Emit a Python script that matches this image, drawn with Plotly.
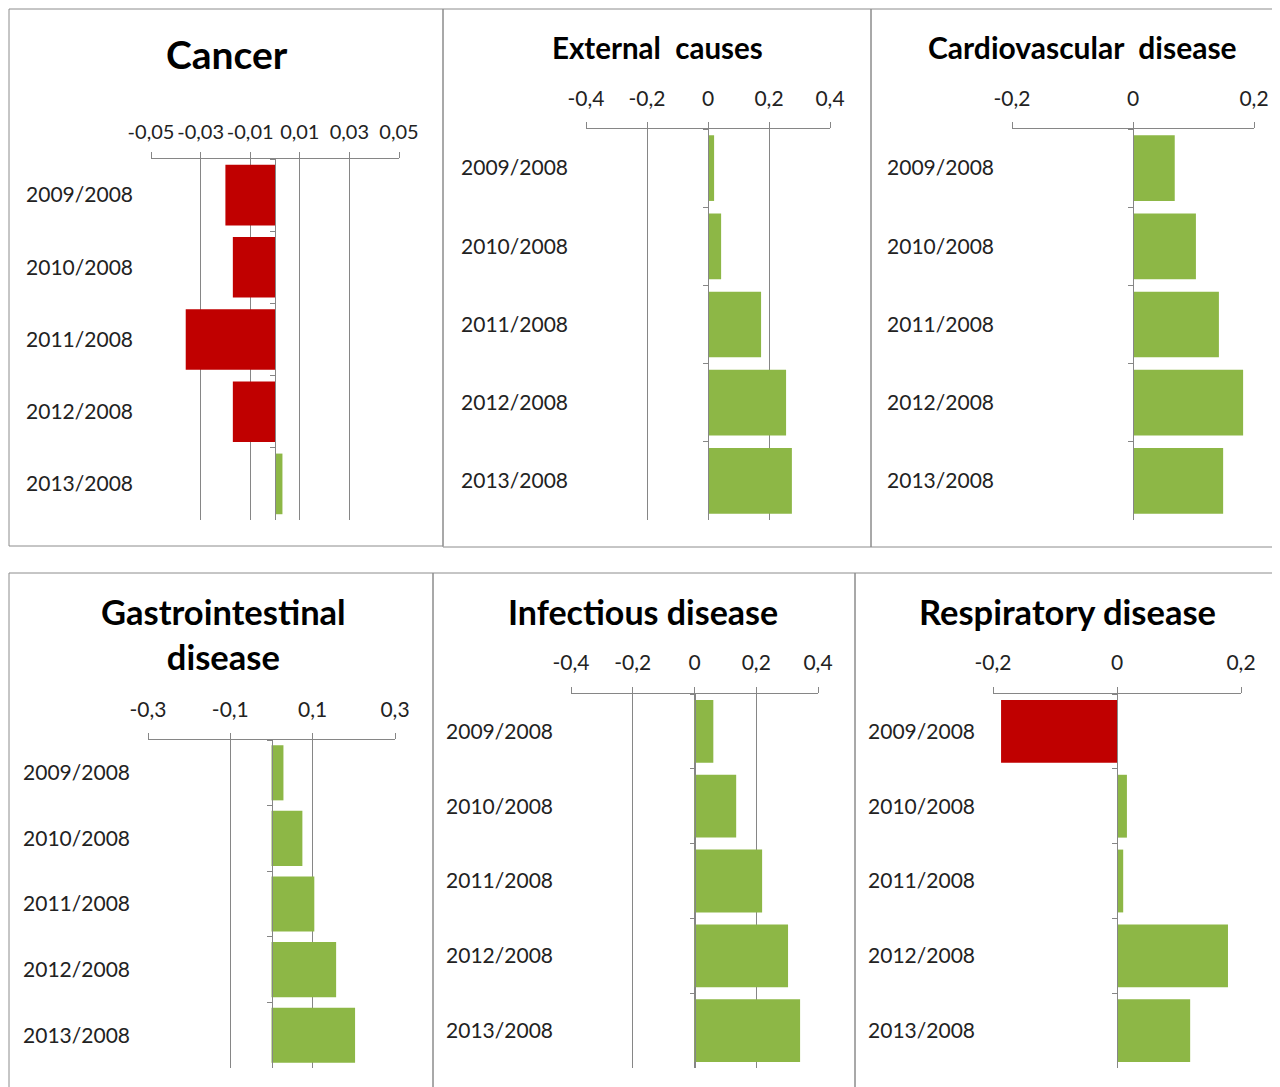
import plotly.graph_objects as go

W, H = 1280, 1087
PAGE_OFFSET = 8  # default body margin of the written HTML page

# ---------------- data ----------------
CATEGORIES = ["2009/2008", "2010/2008", "2011/2008", "2012/2008", "2013/2008"]

CANCER = [-0.020, -0.017, -0.036, -0.017, 0.003]
EXTERNAL = [0.020, 0.043, 0.174, 0.256, 0.275]
CARDIO = [0.069, 0.104, 0.142, 0.182, 0.149]
GASTRO = [0.029, 0.075, 0.104, 0.157, 0.203]
INFECT = [0.061, 0.135, 0.219, 0.303, 0.342]
RESP = [-0.187, 0.016, 0.010, 0.179, 0.118]

TITLES = ["Cancer", "External  causes", "Cardiovascular  disease",
          "Gastrointestinal<br>disease", "Infectious disease", "Respiratory disease"]

TICKS_CANCER = [-0.05, -0.03, -0.01, 0.01, 0.03, 0.05]
TICKTEXT_CANCER = ["-0,05", "-0,03", "-0,01", "0,01", "0,03", "0,05"]
TICKS_04 = [-0.4, -0.2, 0, 0.2, 0.4]
TICKTEXT_04 = ["-0,4", "-0,2", "0", "0,2", "0,4"]
TICKS_02 = [-0.2, 0, 0.2]
TICKTEXT_02 = ["-0,2", "0", "0,2"]
TICKS_03 = [-0.3, -0.1, 0.1, 0.3]
TICKTEXT_03 = ["-0,3", "-0,1", "0,1", "0,3"]

SERIES = [CANCER, EXTERNAL, CARDIO, GASTRO, INFECT, RESP]
TICKS = [(TICKS_CANCER, TICKTEXT_CANCER), (TICKS_04, TICKTEXT_04), (TICKS_02, TICKTEXT_02),
         (TICKS_03, TICKTEXT_03), (TICKS_04, TICKTEXT_04), (TICKS_02, TICKTEXT_02)]
RANGES = [(-0.05, 0.05), (-0.4, 0.4), (-0.2, 0.2), (-0.3, 0.3), (-0.4, 0.4), (-0.2, 0.2)]

# ---------------- layout geometry (target page pixels) ----------------
PLOTS = [(151, 399, 159, 520), (586, 830, 129, 520), (1012, 1254, 129, 520),
         (148, 395, 740, 1068), (571, 818, 694, 1068), (993, 1241, 694, 1068)]
TITLE_POS = [(227, 54, 39), (657, 47, 29.5), (1082, 47, 30),
             (223, 634, 34.5), (643, 611, 34), (1067, 611, 34.5)]
TICK_STANDOFF = [5, 8, 8, 8, 9, 9]
TICK_SIZE = [20, 21, 21, 21, 21, 21]
FRAMES = [(9, 443, 9, 546), (443, 871, 9, 547), (871, 1300, 9, 547),
          (9, 433, 573, 1110), (433, 855, 573, 1110), (855, 1278, 573, 1110)]

RED = "#C00000"
GREEN = "#8DB746"
GRID = "#868686"
TEXT = "#222222"
FONT = "Lato"


def px(x):
    return (x - PAGE_OFFSET) / W


def py(y):
    return 1 - (y - PAGE_OFFSET) / H


fig = go.Figure()
layout = dict(
    width=W, height=H, margin=dict(l=0, r=0, t=0, b=0, autoexpand=False),
    paper_bgcolor="white", plot_bgcolor="rgba(0,0,0,0)",
    showlegend=False, bargap=0.16,
    font=dict(family=FONT, size=21, color=TEXT),
    shapes=[], annotations=[],
)

for i in range(6):
    n = i + 1
    vals = SERIES[i]
    x0, x1, y0, y1 = PLOTS[i]
    r0, r1 = RANGES[i]
    tv, tt = TICKS[i]
    xname = "x" if n == 1 else f"x{n}"
    yname = "y" if n == 1 else f"y{n}"
    y2n = n + 6
    y2name = f"y{y2n}"

    fig.add_trace(go.Bar(
        x=vals, y=CATEGORIES, orientation="h",
        marker=dict(color=[RED if v < 0 else GREEN for v in vals], line=dict(width=0)),
        xaxis=xname, yaxis=yname, hoverinfo="x+y",
    ))
    fig.add_trace(go.Bar(
        x=vals, y=CATEGORIES, orientation="h",
        marker=dict(color="rgba(0,0,0,0)", line=dict(width=0)),
        xaxis=xname, yaxis=y2name, hoverinfo="skip",
    ))

    xd = [px(x0), px(x1)]
    yd = [py(y1), py(y0)]
    zero_pos = xd[0] + (0 - r0) / (r1 - r0) * (xd[1] - xd[0])

    layout["xaxis" + ("" if n == 1 else str(n))] = dict(
        domain=xd, range=[r0, r1], side="top", anchor=yname, automargin=False,
        tickvals=tv, ticktext=tt, tickangle=0, showgrid=True, gridcolor=GRID, gridwidth=1,
        showline=True, linecolor=GRID, linewidth=1, ticks="outside", ticklen=6,
        tickcolor=GRID, zeroline=False, ticklabelstandoff=TICK_STANDOFF[i],
        tickfont=dict(family=FONT, size=TICK_SIZE[i], color=TEXT), fixedrange=True,
    )
    layout["yaxis" + ("" if n == 1 else str(n))] = dict(
        domain=yd, anchor=xname, type="category", categoryorder="array", automargin=False,
        categoryarray=CATEGORIES, range=[4.5, -0.5], showgrid=False,
        showline=False, ticks="", ticklabelstandoff=17, zeroline=False,
        tickfont=dict(family=FONT, size=21, color=TEXT), fixedrange=True,
    )
    layout[f"yaxis{y2n}"] = dict(
        overlaying=yname, anchor="free", position=zero_pos, type="category",
        categoryorder="array", categoryarray=CATEGORIES, range=[4.5, -0.5], automargin=False,
        showgrid=False, showline=True, linecolor=GRID, linewidth=1,
        ticks="outside", tickson="boundaries", ticklen=5, tickcolor=GRID,
        showticklabels=False, zeroline=False, fixedrange=True,
    )

    tx, ty, ts = TITLE_POS[i]
    layout["annotations"].append(dict(
        text="<b>" + TITLES[i] + "</b>", x=px(tx), y=py(ty), xref="paper", yref="paper",
        xanchor="center", yanchor="middle", showarrow=False,
        font=dict(family=FONT, size=ts, color="#000000"),
    ))

    fx0, fx1, fy0, fy1 = FRAMES[i]
    layout["shapes"].append(dict(
        type="rect", xref="paper", yref="paper",
        x0=px(fx0), x1=px(fx1), y0=py(fy1), y1=py(fy0),
        line=dict(color="#8c8c8c", width=1), fillcolor="rgba(0,0,0,0)", layer="below",
    ))

fig.update_layout(**layout)
fig.write_html("out.html")
